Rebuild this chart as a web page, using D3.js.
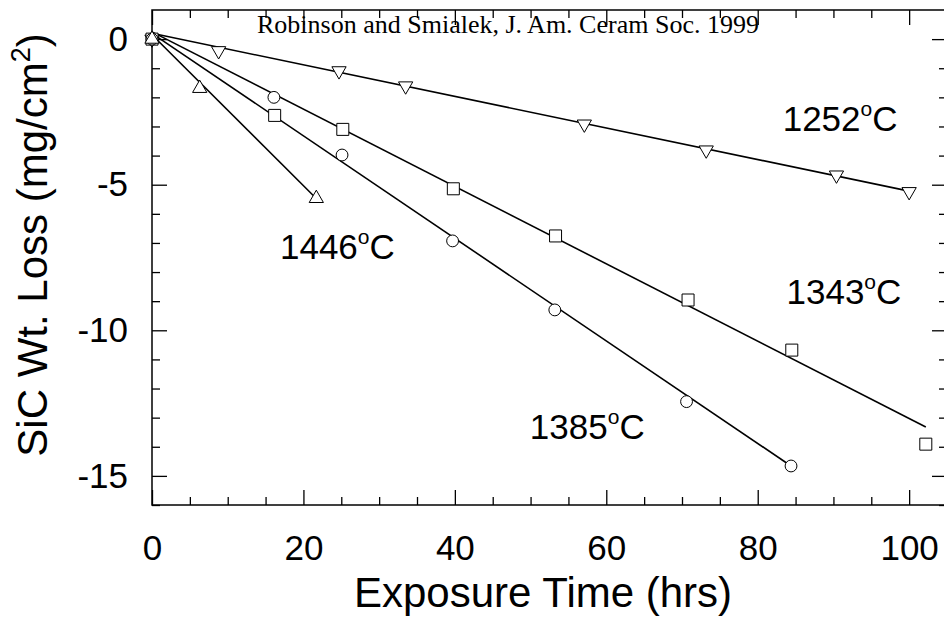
<!DOCTYPE html>
<html>
<head>
<meta charset="utf-8">
<script src="https://cdn.jsdelivr.net/npm/d3@7"></script>
<style>
    body { margin: 0; background: #fff; }
    svg { display: block; }
</style>
</head>
<body>
<div id="chart"></div>
<script>
// data (hrs, mg/cm2)
let times1252 = [0, 8.8, 24.7, 33.5, 57.1, 73.2, 90.4, 100];
let loss1252 = [0, -0.40, -1.09, -1.61, -2.92, -3.81, -4.67, -5.24];

let times1343 = [0, 16.2, 25.2, 39.8, 53.3, 70.8, 84.5, 102.2];
let loss1343 = [0, -2.62, -3.10, -5.14, -6.76, -8.96, -10.68, -13.91];

let times1385 = [0, 16.1, 25.1, 39.7, 53.2, 70.6, 84.4];
let loss1385 = [0, -2.00, -3.98, -6.93, -9.30, -12.45, -14.66];

let times1446 = [0, 6.3, 21.7];
let loss1446 = [0, -1.69, -5.47];

// straight-line fits, as drawn (start and end points)
let fitTimes1252 = [0, 100], fitLoss1252 = [0.2, -5.22];
let fitTimes1343 = [0, 102.2], fitLoss1343 = [0.25, -13.32];
let fitTimes1385 = [0, 84.4], fitLoss1385 = [0.2, -14.66];
let fitTimes1446 = [0, 21.3], fitLoss1446 = [0.15, -5.37];

let xTicks = [0, 20, 40, 60, 80, 100];
let xTickLabels = ["0", "20", "40", "60", "80", "100"];
let yTicks = [0, -5, -10, -15];
let yTickLabels = ["0", "-5", "-10", "-15"];

let tempLabels = ["1252", "1343", "1385", "1446"];
let labelTimes = [83.3, 83.8, 49.9, 16.9];
let labelLoss = [-3.15, -9.1, -13.75, -7.55];

function zip(xs, ys) {
    return xs.map(function (x, i) { return {x: x, y: ys[i]}; });
}

function sic_plot() {

    let margin = {top: 10, right: -3, bottom: 115, left: 152},
        width = 944 - margin.left - margin.right,
        height = 620 - margin.top - margin.bottom;

    let svg = d3.select("#chart")
        .append("svg")
        .attr("width", 944)
        .attr("height", 620)
        .append("g")
        .attr("transform", "translate(" + margin.left + "," + margin.top + ")");

    let x = d3.scaleLinear().domain([0, 105]).range([0, width]);
    let y = d3.scaleLinear().domain([-16, 1]).range([height, 0]);

    let minorX = d3.range(0, 105, 5).filter(function (d) { return d % 20 !== 0; });
    let minorY = d3.range(-16, 1, 1).filter(function (d) { return d % 5 !== 0; });

    // axes, ticks pointing inward on all four sides
    function axisStyle(g) {
        g.select(".domain").remove();
        g.selectAll("line").attr("stroke", "#000").attr("stroke-width", 1.3);
    }

    svg.append("g")
        .attr("transform", "translate(0," + height + ")")
        .call(d3.axisBottom(x).tickValues(xTicks).tickSize(-15).tickPadding(30)
            .tickFormat(function (d, i) { return xTickLabels[i]; }))
        .call(axisStyle)
        .selectAll("text")
        .attr("font-family", "Liberation Sans, Arial, sans-serif")
        .attr("font-size", 35)
        .attr("fill", "#000");

    svg.append("g")
        .attr("transform", "translate(0," + height + ")")
        .call(d3.axisBottom(x).tickValues(minorX).tickSize(-8).tickFormat(""))
        .call(axisStyle);

    svg.append("g")
        .call(d3.axisTop(x).tickValues(xTicks).tickSize(-15).tickFormat(""))
        .call(axisStyle);
    svg.append("g")
        .call(d3.axisTop(x).tickValues(minorX).tickSize(-8).tickFormat(""))
        .call(axisStyle);

    svg.append("g")
        .call(d3.axisLeft(y).tickValues(yTicks).tickSize(-15).tickPadding(24)
            .tickFormat(function (d, i) { return yTickLabels[i]; }))
        .call(axisStyle)
        .selectAll("text")
        .attr("font-family", "Liberation Sans, Arial, sans-serif")
        .attr("font-size", 35)
        .attr("fill", "#000");
    svg.append("g")
        .call(d3.axisLeft(y).tickValues(minorY).tickSize(-8).tickFormat(""))
        .call(axisStyle);

    svg.append("g")
        .attr("transform", "translate(" + width + ",0)")
        .call(d3.axisRight(y).tickValues(yTicks).tickSize(-15).tickFormat(""))
        .call(axisStyle);
    svg.append("g")
        .attr("transform", "translate(" + width + ",0)")
        .call(d3.axisRight(y).tickValues(minorY).tickSize(-8).tickFormat(""))
        .call(axisStyle);

    // frame
    svg.append("rect")
        .attr("x", 0)
        .attr("y", 0)
        .attr("width", width)
        .attr("height", height)
        .attr("fill", "none")
        .attr("stroke", "#000")
        .attr("stroke-width", 1.5);

    // fit lines
    let line = d3.line()
        .x(function (d) { return x(d.x); })
        .y(function (d) { return y(d.y); });

    let fits = [
        zip(fitTimes1252, fitLoss1252),
        zip(fitTimes1343, fitLoss1343),
        zip(fitTimes1385, fitLoss1385),
        zip(fitTimes1446, fitLoss1446)
    ];

    svg.append("g")
        .selectAll("path")
        .data(fits)
        .enter()
        .append("path")
        .attr("d", line)
        .attr("fill", "none")
        .attr("stroke", "#000")
        .attr("stroke-width", 1.6);

    // markers
    let series = [
        {pts: zip(times1252, loss1252), sym: d3.symbolTriangle, size: 88, rot: 180},
        {pts: zip(times1343, loss1343), sym: d3.symbolSquare, size: 144, rot: 0},
        {pts: zip(times1385, loss1385), sym: d3.symbolCircle, size: 110, rot: 0},
        {pts: zip(times1446, loss1446), sym: d3.symbolTriangle, size: 88, rot: 0}
    ];

    series.forEach(function (s) {
        svg.append("g")
            .selectAll("path")
            .data(s.pts)
            .enter()
            .append("path")
            .attr("d", d3.symbol().type(s.sym).size(s.size))
            .attr("transform", function (d) {
                return "translate(" + x(d.x) + "," + y(d.y) + ") rotate(" + s.rot + ")";
            })
            .attr("fill", "#fff")
            .attr("stroke", "#000")
            .attr("stroke-width", 1);
    });

    // temperature labels
    let labels = svg.append("g")
        .selectAll("text")
        .data(tempLabels)
        .enter()
        .append("text")
        .attr("x", function (d, i) { return x(labelTimes[i]); })
        .attr("y", function (d, i) { return y(labelLoss[i]); })
        .attr("font-family", "Liberation Sans, Arial, sans-serif")
        .attr("font-size", 35)
        .attr("fill", "#000");
    labels.append("tspan").text(function (d) { return d; });
    labels.append("tspan").attr("font-size", 21).attr("dy", -15).text("o");
    labels.append("tspan").attr("dy", 15).text("C");

    // citation
    svg.append("text")
        .attr("x", 105)
        .attr("y", 23)
        .attr("font-family", "Liberation Serif, Times New Roman, serif")
        .attr("font-size", 26)
        .attr("fill", "#000")
        .text("Robinson and Smialek, J. Am. Ceram Soc. 1999");

    // axis titles
    svg.append("text")
        .attr("x", 391)
        .attr("y", 597)
        .attr("text-anchor", "middle")
        .attr("font-family", "Liberation Sans, Arial, sans-serif")
        .attr("font-size", 42)
        .attr("fill", "#000")
        .text("Exposure Time (hrs)");

    let yTitle = svg.append("text")
        .attr("transform", "translate(-105," + 235 + ") rotate(-90)")
        .attr("text-anchor", "middle")
        .attr("font-family", "Liberation Sans, Arial, sans-serif")
        .attr("font-size", 42)
        .attr("fill", "#000");
    yTitle.append("tspan").text("SiC Wt. Loss (mg/cm");
    yTitle.append("tspan").attr("font-size", 27).attr("dy", -17).text("2");
    yTitle.append("tspan").attr("dy", 17).text(")");
}

sic_plot();
</script>
</body>
</html>
